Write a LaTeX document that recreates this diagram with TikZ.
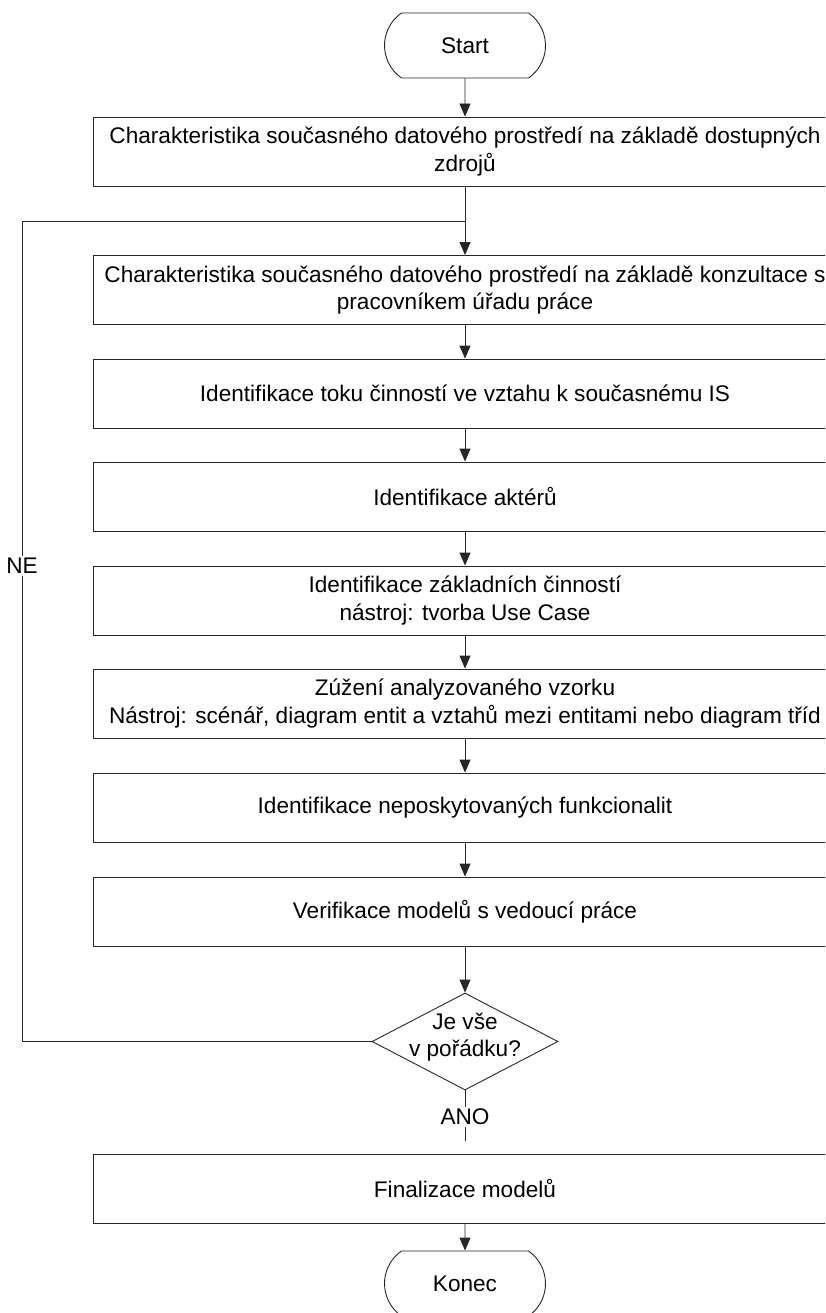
\documentclass[tikz,border=0pt]{standalone}
\usepackage{fontspec}
\setmainfont{Liberation Sans}
\usetikzlibrary{shapes.geometric,shapes.misc,arrows.meta}
\begin{document}
\begin{tikzpicture}[x=1pt,y=-1pt,
  every node/.style={font=\fontsize{22.6}{27.5}\selectfont},
  line/.style={draw=black!85, line width=0.9pt},
  arr/.style={line, -{Triangle[length=13pt,width=11pt]}},
  box/.style={draw=black!85, line width=0.9pt, rectangle, minimum width=744pt,
    minimum height=69pt, inner sep=0pt, align=center},
  term/.style={draw=black!85, line width=0.9pt, rounded rectangle,
    rounded rectangle arc length=110, minimum width=161pt, minimum height=65pt, inner sep=0pt},
  dec/.style={draw=black!85, line width=0.9pt, diamond, minimum width=186pt,
    minimum height=97pt, inner sep=0pt},
  lbl/.style={fill=white, inner sep=2pt}]
\clip (0,0) rectangle (825,1313);
\useasboundingbox (0,0) rectangle (825,1313);

% terminals, process boxes and the decision
\node[term] (start) at (465,45.5) {Start};
\node[box] (b1) at (465,151.5) {Charakteristika současného datového prostředí na základě dostupných\\zdrojů};
\node[box] (b2) at (465,290) {Charakteristika současného datového prostředí na základě konzultace s\\pracovníkem úřadu práce};
\node[box] (b3) at (465,393.5) {Identifikace toku činností ve vztahu k současnému IS};
\node[box] (b4) at (465,496.5) {Identifikace aktérů};
\node[box] (b5) at (465,600.5) {Identifikace základních činností\\nástroj: tvorba Use Case};
\node[box] (b6) at (465,703.5) {Zúžení analyzovaného vzorku\\Nástroj: scénář, diagram entit a vztahů mezi entitami nebo diagram tříd};
\node[box] (b7) at (465,807.5) {Identifikace neposkytovaných funkcionalit};
\node[box] (b8) at (465,911.5) {Verifikace modelů s vedoucí práce};
\node[dec] (dec) at (465,1041.5) {};
\node[align=center, inner sep=0pt] (q) at (465,1037) {Je vše\\v pořádku?};
\node[box] (b9) at (465,1188.5) {Finalizace modelů};
\node[term] (end) at (465,1283.5) {Konec};

% main flow
\draw[arr] (start) -- (b1);
\draw[arr] (b1) -- (b2);
\draw[arr] (b2) -- (b3);
\draw[arr] (b3) -- (b4);
\draw[arr] (b4) -- (b5);
\draw[arr] (b5) -- (b6);
\draw[arr] (b6) -- (b7);
\draw[arr] (b7) -- (b8);
\draw[arr] (b8) -- (dec);

% "NE" loop back above the second box
\coordinate (join) at (465,221);
\coordinate (loopc) at (22,221);
\draw[line] (dec.west) -| (loopc) -- (join);
\node[lbl] (ne) at (22,566) {NE};

% "ANO" branch
\coordinate (anoend) at (465,1141);
\draw[line] (dec.south) -- (anoend);
\node[lbl] (ano) at (465,1117) {ANO};

\draw[arr] (b9) -- (end);
\end{tikzpicture}
\end{document}
